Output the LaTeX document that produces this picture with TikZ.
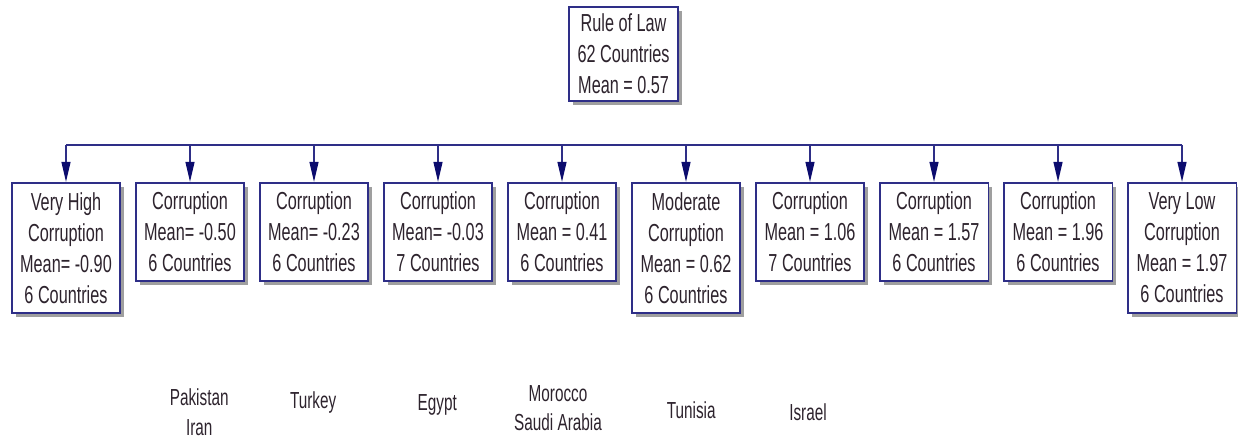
\documentclass[tikz,border=0pt]{standalone}
\usepackage{fontspec}
\setmainfont[FakeStretch=0.66]{Liberation Sans}
\usetikzlibrary{arrows.meta,shadows}
\definecolor{boxblue}{RGB}{46,46,135}
\definecolor{tipblue}{RGB}{12,12,110}
\definecolor{txtgray}{RGB}{45,35,45}

\begin{document}
\begin{tikzpicture}[
		mynode/.style={draw=boxblue, line width=1.3pt, fill=white, text=txtgray, align=center,
			minimum width=2.72cm, minimum height=2.45cm, font=\fontsize{17.5}{22}\selectfont,
			drop shadow={shadow xshift=0.1cm, shadow yshift=-0.1cm, fill=gray!75, opacity=1}},
		tallnode/.style={mynode, minimum height=3.25cm},
		country/.style={text=txtgray, align=center, font=\fontsize{16.5}{21}\selectfont},
		busline/.style={draw=boxblue, line width=1.2pt},
		feed/.style={busline, -{Triangle[length=0.5cm, width=0.22cm, color=tipblue]}}
	]
	\useasboundingbox (0,0) rectangle (30.95,-10.95);

	\node[mynode, minimum height=2.35cm] (law) at (15.59,-1.35) {Rule of Law\\62 Countries\\Mean = 0.57};

	\node[tallnode, anchor=north] (vhigh) at (1.65,-4.55) {Very High\\Corruption\\Mean= -0.90\\6 Countries};
	\node[mynode, anchor=north] (m050) at (4.75,-4.55) {Corruption\\Mean= -0.50\\6 Countries};
	\node[mynode, anchor=north] (m023) at (7.85,-4.55) {Corruption\\Mean= -0.23\\6 Countries};
	\node[mynode, anchor=north] (m003) at (10.95,-4.55) {Corruption\\Mean= -0.03\\7 Countries};
	\node[mynode, anchor=north] (p041) at (14.05,-4.55) {Corruption\\Mean = 0.41\\6 Countries};
	\node[tallnode, anchor=north] (moderate) at (17.15,-4.55) {Moderate\\Corruption\\Mean = 0.62\\6 Countries};
	\node[mynode, anchor=north] (p106) at (20.25,-4.55) {Corruption\\Mean = 1.06\\7 Countries};
	\node[mynode, anchor=north] (p157) at (23.35,-4.55) {Corruption\\Mean = 1.57\\6 Countries};
	\node[mynode, anchor=north] (p196) at (26.45,-4.55) {Corruption\\Mean = 1.96\\6 Countries};
	\node[tallnode, anchor=north] (vlow) at (29.55,-4.55) {Very Low\\Corruption\\Mean = 1.97\\6 Countries};

	\node[country] (pak) at (4.98,-10.3) {Pakistan\\Iran};
	\node[country] (tur) at (7.83,-10.05) {Turkey};
	\node[country] (egy) at (10.93,-10.13) {Egypt};
	\node[country] (mor) at (13.95,-10.2) {Morocco\\Saudi Arabia};
	\node[country] (tun) at (17.28,-10.25) {Tunisia};
	\node[country] (isr) at (20.2,-10.3) {Israel};

	\coordinate (bus) at (0,-3.625);
	\draw[busline] (bus -| vhigh.north) -- (bus -| vlow.north);

	\draw[feed] (bus -| vhigh.north) -- (vhigh.north);
	\draw[feed] (bus -| m050.north) -- (m050.north);
	\draw[feed] (bus -| m023.north) -- (m023.north);
	\draw[feed] (bus -| m003.north) -- (m003.north);
	\draw[feed] (bus -| p041.north) -- (p041.north);
	\draw[feed] (bus -| moderate.north) -- (moderate.north);
	\draw[feed] (bus -| p106.north) -- (p106.north);
	\draw[feed] (bus -| p157.north) -- (p157.north);
	\draw[feed] (bus -| p196.north) -- (p196.north);
	\draw[feed] (bus -| vlow.north) -- (vlow.north);
\end{tikzpicture}
\end{document}
